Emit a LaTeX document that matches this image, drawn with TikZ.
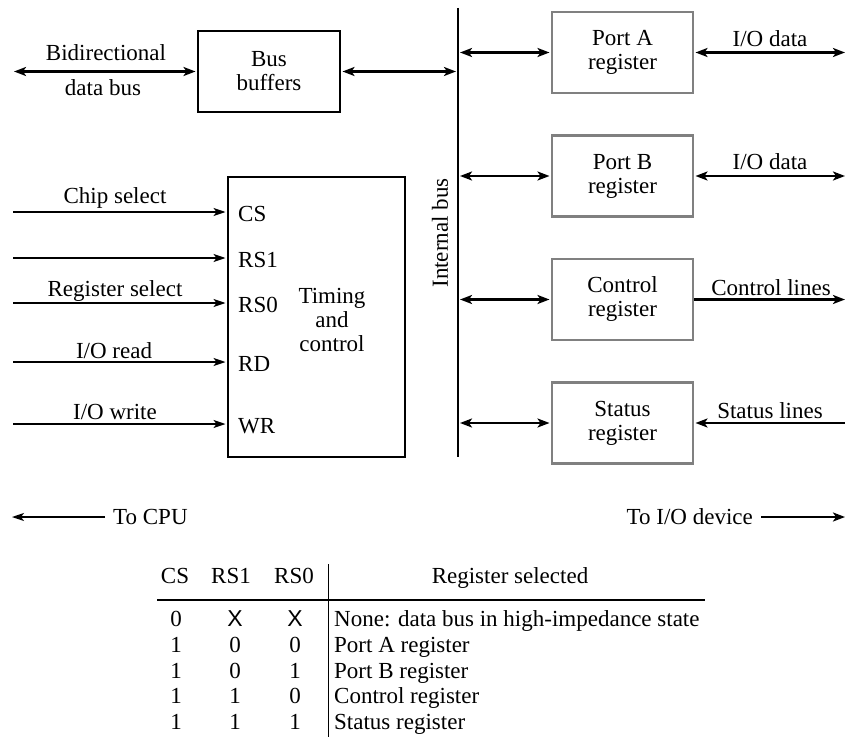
\documentclass[tikz,border=0pt]{standalone}
\usepackage{fontspec}
\setmainfont{Liberation Serif}
\newfontfamily\xfont{Liberation Sans}
\usetikzlibrary{arrows.meta,positioning}

\newcommand{\dc}{{\xfont X}}

\begin{document}
\begin{tikzpicture}[x=1pt,y=-1pt,
    every node/.style={font=\fontsize{23}{24}\selectfont, inner sep=0pt},
    blkbox/.style={draw, line width=2.4pt, align=center},
    regbox/.style={draw=black!50, line width=2.4pt, minimum width=141pt, minimum height=81pt, align=center},
    bothway/.style={{Stealth[length=12pt,width=9pt,inset=3pt]}-{Stealth[length=12pt,width=9pt,inset=3pt]}, line width=2.2pt},
    oneway/.style={-{Stealth[length=12pt,width=9pt,inset=3pt]}, line width=2.2pt},
    inline/.style={-{Stealth[length=12pt,width=8pt,inset=3pt]}, line width=1.3pt}]

    \useasboundingbox (0,0) rectangle (845,738);

    % Bus buffers
    \node[blkbox, minimum width=142pt, minimum height=81pt] (buf) at (269,71.5) {Bus\\buffers};
    \coordinate (cpul) at (14,71.5);
    \draw[bothway, shorten >=1.3pt] (cpul) -- (buf.west);
    \node[anchor=base] (bidir) at (106,61) {Bidirectional};
    \node[anchor=base] (dbus) at (103,96) {data bus};

    % Internal bus
    \coordinate (bustop) at (458,8);
    \coordinate (busbot) at (458,457);
    \draw[line width=2.4pt] (bustop) -- (busbot);
    \node[rotate=90] (buslab) at (440,233) {Internal bus};
    \draw[bothway, shorten <=2pt, shorten >=1.3pt] (buf.east -| bustop) -- (buf.east);

    % Registers
    \foreach \y/\name/\lab in {52.5/pa/Port A, 176/pb/Port B, 299.5/ctl/Control, 423/st/Status}
    {
        \node[regbox] (\name) at (622.5,\y) {\lab\\register};
        \draw[bothway, shorten <=2pt, shorten >=1.3pt] (\name.west -| bustop) -- (\name.west);
    }

    % Lines to the I/O device
    \coordinate (redge) at (845,0);
    \draw[bothway, shorten <=1.3pt] (pa.east) -- (pa.east -| redge);
    \draw[bothway, shorten <=1.3pt] (pb.east) -- (pb.east -| redge);
    \draw[oneway] (ctl.east) -- (ctl.east -| redge);
    \draw[oneway, shorten >=1.3pt] (st.east -| redge) -- (st.east);
    \node[anchor=base] (iodA) at (770,47) {I/O data};
    \node[anchor=base] (iodB) at (770,170) {I/O data};
    \node[anchor=base] (ctll) at (771,295) {Control lines};
    \node[anchor=base] (stl) at (770,418) {Status lines};

    % Timing and control
    \node[blkbox, minimum width=177pt, minimum height=280pt] (tc) at (316.5,317) {};
    \node[align=center] (tctext) at (332,320) {Timing\\and\\control};

    \foreach \y/\pin in {212/CS, 258/RS1, 303/RS0, 362/RD, 424/WR}
    {
        \node[anchor=west] (p\pin) at (238,\y+2) {\pin};
        \coordinate (i\pin) at (13,\y);
        \draw[inline, shorten >=1.3pt] (i\pin) -- (i\pin -| tc.west);
    }
    \node[anchor=base] (chipsel) at (115,203) {Chip select};
    \node[anchor=base] (regsel) at (115,296) {Register select};
    \node[anchor=base] (ioread) at (114,358) {I/O read};
    \node[anchor=base] (iowrite) at (115,419) {I/O write};

    % To CPU / To I/O device
    \node[anchor=west] (tocpu) at (113,517) {To CPU};
    \coordinate (cpuend) at (12,517);
    \draw[inline, shorten <=8pt] (tocpu.west) -- (cpuend);
    \node[anchor=east] (todev) at (753,517) {To I/O device};
    \coordinate (devend) at (845,517);
    \draw[oneway, shorten <=8pt] (todev.east) -- (devend);

    % Table
    \node[anchor=base] (hcs) at (175,583) {CS};
    \node[anchor=base] (hra) at (231,583) {RS1};
    \node[anchor=base] (hrb) at (294,583) {RS0};
    \node[anchor=base] (hsel) at (510,583) {Register selected};
    \coordinate (hl) at (157,600);
    \coordinate (hr) at (705,600);
    \draw[line width=1.2pt] (hl) -- (hr);
    \coordinate (vt) at (328,564);
    \coordinate (vb) at (328,737);
    \draw[line width=1pt] (vt) -- (vb);

    \foreach \y/\cs/\ra/\rb/\sel in {626/0/\dc/\dc/None: data bus in high-impedance state,
                                     652/1/0/0/Port A register,
                                     678/1/0/1/Port B register,
                                     703/1/1/0/Control register,
                                     729/1/1/1/Status register}
    {
        \node[anchor=base] (cs\y) at (176,\y) {\cs};
        \node[anchor=base] (ra\y) at (235,\y) {\ra};
        \node[anchor=base] (rb\y) at (295,\y) {\rb};
        \node[anchor=base west] (sel\y) at (334,\y) {\sel};
    }

\end{tikzpicture}
\end{document}
